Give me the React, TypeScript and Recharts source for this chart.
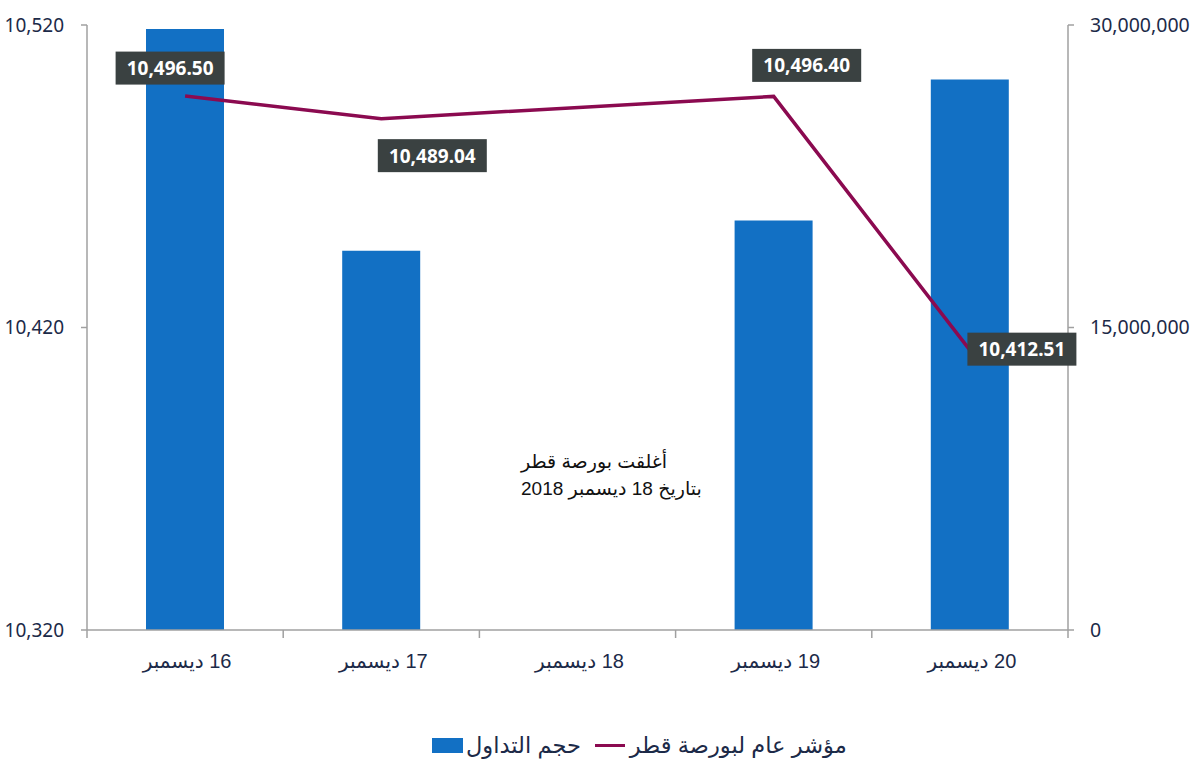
import React from 'react';
import { ComposedChart, Bar, Line, XAxis, YAxis, LabelList } from 'recharts';

const categories = ['16 ديسمبر', '17 ديسمبر', '18 ديسمبر', '19 ديسمبر', '20 ديسمبر'];
const indexValues: (number | null)[] = [10496.5, 10489.04, null, 10496.4, 10412.51];
const volumeValues: (number | null)[] = [29800000, 18800000, null, 20300000, 27300000];
const leftTicks = [10320, 10420, 10520];
const rightTicks = [0, 15000000, 30000000];
const volumeName = 'حجم التداول';
const indexName = 'مؤشر عام لبورصة قطر';
const noteLines = ['أغلقت بورصة قطر', 'بتاريخ 18 ديسمبر 2018'];

// label box placement relative to the point (style only)
const labelOffsets: [number, number][] = [[-15, -28], [51, 37], [0, 0], [33, -31], [52, -1]];

const data = categories.map((name, i) => ({
  name,
  index: indexValues[i],
  volume: volumeValues[i],
}));

const AXIS = '#a0a0a0';
const TEXT = '#1c2a48';
const BAR = '#1270c4';
const LINE = '#8b0a50';
const NUM_FONT = '"Noto Sans", "Open Sans", sans-serif';
const AR_FONT = '"Liberation Sans", "DejaVu Sans", sans-serif';

const fmt = (v: number) => v.toLocaleString('en-US');

const PointLabel = (props: any) => {
  const { x, y, value, index } = props;
  if (value == null || x == null || y == null) return null;
  const [dx, dy] = labelOffsets[index] || [0, 0];
  const w = 109;
  const h = 33;
  const cx = x + dx;
  const cy = y + dy;
  return (
    <g>
      <rect x={cx - w / 2} y={cy - h / 2} width={w} height={h} fill="#3a4141" />
      <text
        x={cx}
        y={cy}
        textAnchor="middle"
        dominantBaseline="central"
        fill="#ffffff"
        fontWeight={700}
        fontSize={19}
        fontFamily={NUM_FONT}
      >
        {Number(value).toLocaleString('en-US', { minimumFractionDigits: 2, maximumFractionDigits: 2 })}
      </text>
    </g>
  );
};

const XTick = (props: any) => {
  const { x, y, payload, index } = props;
  const off = payload && payload.offset ? payload.offset : 98;
  const last = index === categories.length - 1;
  return (
    <g>
      <line x1={x - off} x2={x - off} y1={y} y2={y + 8} stroke={AXIS} strokeWidth={1.5} />
      {last && <line x1={x + off} x2={x + off} y1={y} y2={y + 8} stroke={AXIS} strokeWidth={1.5} />}
      <text x={x + 2} y={y + 38} textAnchor="middle" fill={TEXT} fontSize={20} fontFamily={AR_FONT}>
        {'\u200F' + payload.value}
      </text>
    </g>
  );
};

export default function App() {
  return (
    <div style={{ position: 'absolute', left: 0, top: 0, width: 1200, height: 784, background: '#ffffff' }}>
      <ComposedChart width={1200} height={784} data={data} margin={{ top: 25, right: 0, left: 0, bottom: 114 }}>
        <XAxis
          dataKey="name"
          interval={0}
          height={40}
          tickSize={0}
          tickMargin={0}
          tickLine={false}
          axisLine={{ stroke: AXIS, strokeWidth: 1.5 }}
          tick={<XTick />}
        />
        <YAxis
          yAxisId="left"
          orientation="left"
          width={87}
          domain={[10320, 10520]}
          ticks={leftTicks}
          allowDataOverflow
          tickFormatter={fmt}
          tickSize={6}
          tickMargin={17}
          axisLine={{ stroke: AXIS, strokeWidth: 1.5 }}
          tickLine={{ stroke: AXIS, strokeWidth: 1.5 }}
          tick={{ fill: TEXT, fontSize: 19, fontFamily: NUM_FONT }}
        />
        <YAxis
          yAxisId="right"
          orientation="right"
          width={132}
          domain={[0, 30000000]}
          ticks={rightTicks}
          tickFormatter={fmt}
          tickSize={6}
          tickMargin={16}
          axisLine={{ stroke: AXIS, strokeWidth: 1.5 }}
          tickLine={{ stroke: AXIS, strokeWidth: 1.5 }}
          tick={{ fill: TEXT, fontSize: 19.5, fontFamily: NUM_FONT }}
        />
        <Bar yAxisId="right" dataKey="volume" name={volumeName} fill={BAR} barSize={78} isAnimationActive={false} />
        <Line
          yAxisId="left"
          dataKey="index"
          name={indexName}
          stroke={LINE}
          strokeWidth={3.5}
          dot={false}
          activeDot={false}
          connectNulls
          type="linear"
          isAnimationActive={false}
        >
          <LabelList dataKey="index" content={<PointLabel />} />
        </Line>
      </ComposedChart>

      <div
        dir="rtl"
        style={{
          position: 'absolute',
          left: 521,
          top: 448,
          fontFamily: AR_FONT,
          fontSize: 19,
          lineHeight: '27px',
          color: '#111111',
          textAlign: 'left',
          whiteSpace: 'nowrap',
        }}
      >
        {noteLines.map((t, i) => (
          <div key={i} style={{ textAlign: 'left' }}>{t}</div>
        ))}
      </div>

      <div
        style={{
          position: 'absolute',
          left: 432,
          top: 732,
          display: 'flex',
          alignItems: 'center',
          fontFamily: AR_FONT,
          fontSize: 22.5,
          color: TEXT,
          whiteSpace: 'nowrap',
        }}
      >
        <span style={{ display: 'inline-block', width: 31, height: 15, background: BAR, marginRight: 3 }} />
        <span dir="rtl">{volumeName}</span>
        <span style={{ display: 'inline-block', width: 30, height: 3, background: LINE, marginLeft: 14, marginRight: 5 }} />
        <span dir="rtl">{indexName}</span>
      </div>
    </div>
  );
}
